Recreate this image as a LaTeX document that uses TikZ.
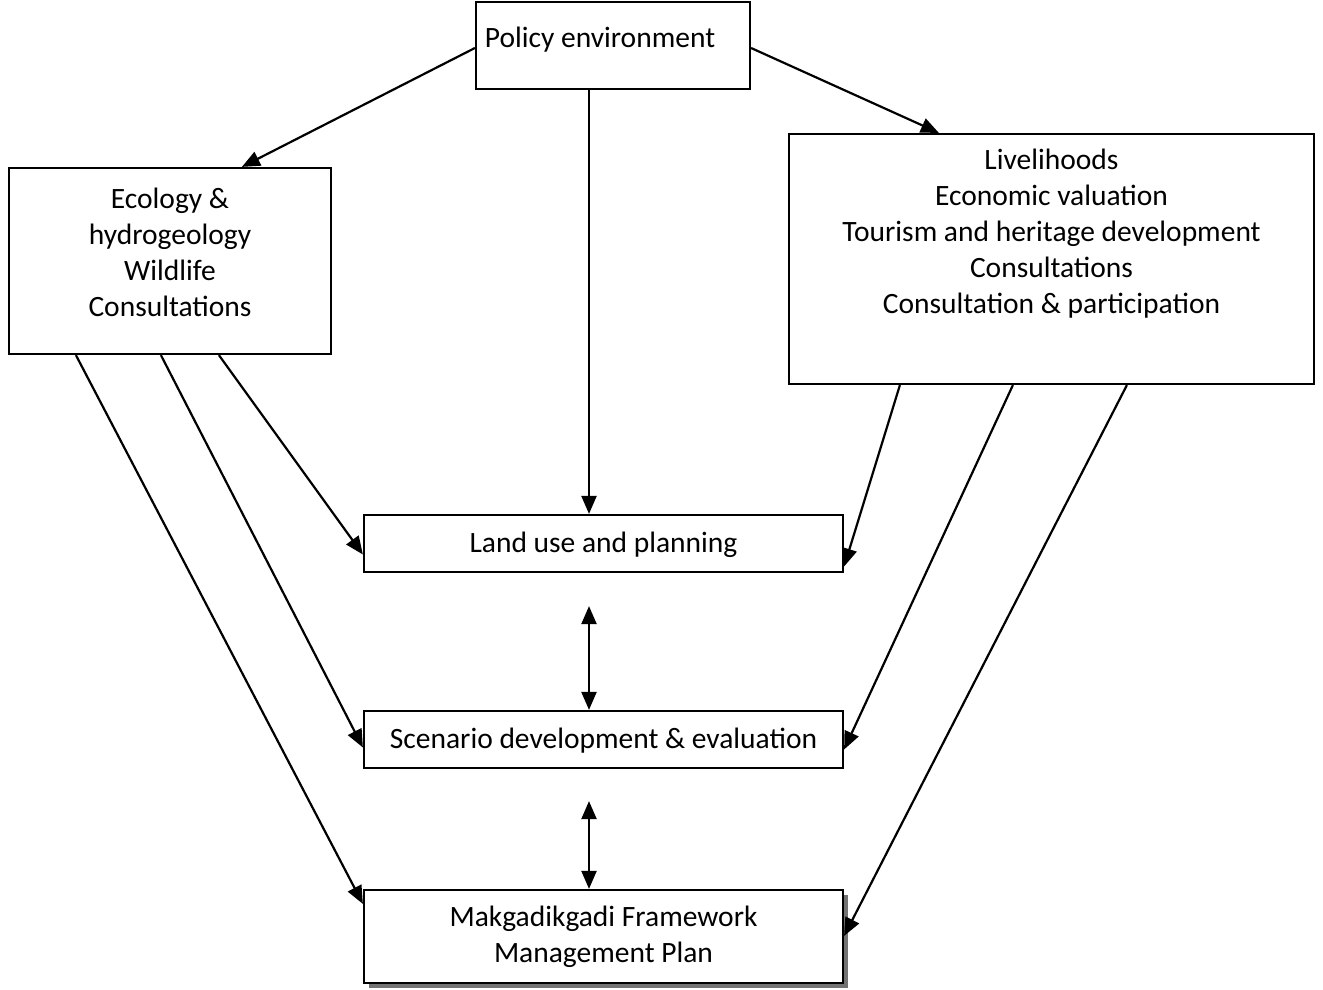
\documentclass[tikz,border=0pt]{standalone}
\usepackage{fontspec}
\setmainfont{Carlito}
\usetikzlibrary{arrows.meta,shadows}
\begin{document}
\begin{tikzpicture}[x=1pt,y=-1pt,
  box/.style={draw,line width=2.2pt,fill=white,inner sep=0pt},
  lbl/.style={align=center,font=\fontsize{29.5}{36}\selectfont,inner sep=0pt},
  arr/.style={line width=2.2pt,-{Triangle[length=18pt,width=15pt]}},
  darr/.style={line width=2.2pt,{Triangle[length=18pt,width=15pt]}-{Triangle[length=18pt,width=15pt]}}]
\useasboundingbox (0,0) rectangle (1323,989);

% boxes
\node[box,minimum width=274pt,minimum height=87pt] (policy) at (613,45.5) {};
\node[lbl] (policyt) at (600,40) {Policy environment};

\node[box,minimum width=322pt,minimum height=186pt] (left) at (170,261) {};
\node[lbl] (leftt) at (170,252.5) {Ecology \&\\hydrogeology\\Wildlife\\Consultations};

\node[box,minimum width=525pt,minimum height=250pt] (right) at (1051.5,259) {};
\node[lbl] (rightt) at (1051.5,234) {Livelihoods\\Economic valuation\\Tourism and heritage development\\Consultations\\Consultation \& participation};

\node[box,minimum width=479pt,minimum height=57pt] (land) at (603.5,543.5) {};
\node[lbl] (landt) at (603.5,545) {Land use and planning};

\node[box,minimum width=479pt,minimum height=57pt] (scen) at (603.5,739.5) {};
\node[lbl] (scent) at (603.5,741) {Scenario development \& evaluation};

\node[box,minimum width=479pt,minimum height=93pt,
  drop shadow={shadow xshift=5pt,shadow yshift=-5pt,fill=black!55,opacity=1}] (plan) at (603.5,936.5) {};
\node[lbl] (plant) at (603.5,937) {Makgadikgadi Framework\\Management Plan};

% links from the policy box
\draw[arr] ([yshift=-2.5pt]policy.west) -- ([xshift=234pt]left.north west);
\draw[arr] ([yshift=-2.5pt]policy.east) -- ([xshift=151pt]right.north west);
\draw[arr] ([xshift=-24pt]policy.south) -- ([xshift=-24pt]policy.south |- land.north);

% links from the ecology box
\draw[arr] ([xshift=211pt]left.south west) -- ([yshift=-11pt]land.west);
\draw[arr] ([xshift=153pt]left.south west) -- ([yshift=-8pt]scen.west);
\draw[arr] ([xshift=68pt]left.south west) -- ([yshift=-15pt]plan.north west);

% links from the livelihoods box
\draw[arr] ([xshift=112pt]right.south west) -- ([yshift=-23pt]land.east);
\draw[arr] ([xshift=225pt]right.south west) -- ([yshift=-10pt]scen.east);
\draw[arr] ([xshift=339pt]right.south west) -- ([yshift=-47pt]plan.north east);

% two-way links down the middle
\coordinate (m1) at ([xshift=-14.5pt,yshift=-33pt]land.south);
\coordinate (m2) at ([xshift=-14.5pt,yshift=-32pt]scen.south);
\draw[darr] (m1) -- (m1 |- scen.north);
\draw[darr] (m2) -- (m2 |- plan.north);
\end{tikzpicture}
\end{document}
